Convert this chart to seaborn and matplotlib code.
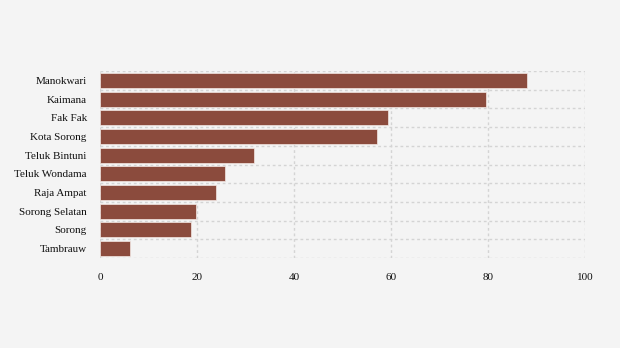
import matplotlib
matplotlib.use("Agg")
import matplotlib.pyplot as plt
import seaborn as sns
import pandas as pd
import numpy as np

categories = ["Manokwari", "Kaimana", "Fak Fak", "Kota Sorong", "Teluk Bintuni",
              "Teluk Wondama", "Raja Ampat", "Sorong Selatan", "Sorong", "Tambrauw"]
values = [88.0, 79.6, 59.4, 57.1, 31.8, 25.8, 23.9, 19.8, 18.8, 6.2]
x_ticks = [0, 20, 40, 60, 80, 100]

df = pd.DataFrame({"cat": categories, "val": values})

sns.set_theme(style="white")
plt.rcParams["font.family"] = ["Liberation Serif", "DejaVu Serif"]

bg = "#f4f4f4"
fig = plt.figure(figsize=(6.2, 3.48), dpi=100, facecolor=bg)
ax = fig.add_axes([100/620, 1-258/348, 485/620, 187/348])
ax.set_facecolor(bg)

sns.barplot(data=df, x="val", y="cat", color="#8b4b3d", saturation=1,
            width=0.8, edgecolor="#f4e8e4", linewidth=0.5, ax=ax, zorder=3)

ax.set_xlim(0, 100)
ax.set_ylim(len(categories) - 0.5, -0.5)
ax.set_xticks(x_ticks)
ax.set_xticklabels([str(t) for t in x_ticks])
ax.set_xlabel("")
ax.set_ylabel("")

ax.set_yticks(np.arange(-0.5, len(categories), 1.0), minor=True)
gridkw = dict(color="#d4d4d4", linestyle=(0, (2, 2)), linewidth=1.0)
ax.grid(axis="x", which="major", **gridkw)
ax.grid(axis="y", which="minor", **gridkw)
ax.grid(axis="y", which="major", visible=False)
ax.set_axisbelow(True)

for s in ax.spines.values():
    s.set_visible(False)

ax.tick_params(axis="x", length=0, pad=10.5, labelsize=8, colors="#111111")
ax.tick_params(axis="y", which="major", length=3, width=1, color="#d9d9d9",
               pad=6.5, labelsize=8, labelcolor="#111111")
ax.tick_params(axis="y", which="minor", length=0)

fig.savefig("out.png", dpi=100, facecolor=bg)
